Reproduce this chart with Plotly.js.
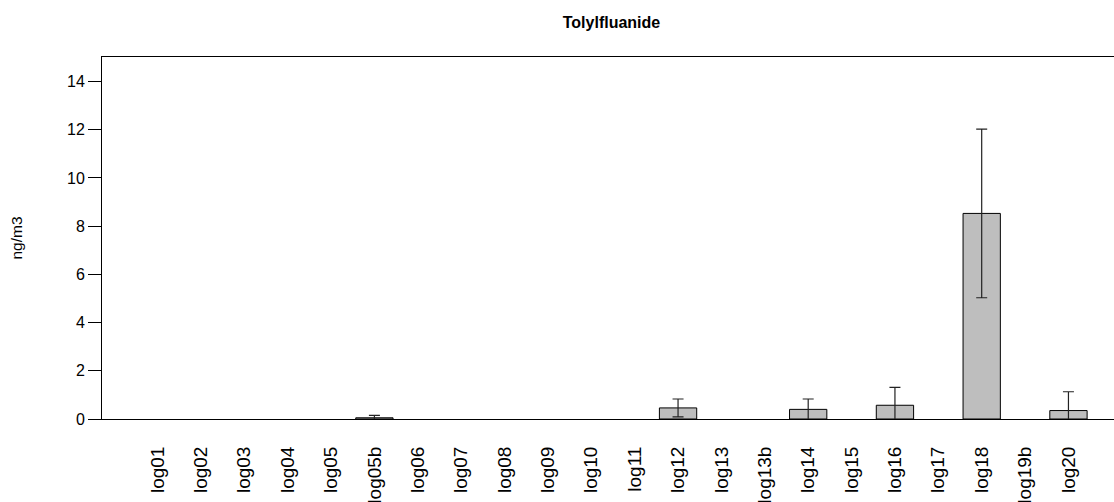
<!DOCTYPE html>
<html>
<head>
<meta charset="utf-8">
<script src="https://cdn.plot.ly/plotly-3.0.1.min.js"></script>
<style>html,body{margin:0;padding:0;overflow:hidden;background:#fff;}</style>
</head>
<body>
<div id="chart" style="width:1114px;height:502px;"></div>
<script>
const categories = ["log01","log02","log03","log04","log05","log05b","log06","log07","log08","log09","log10","log11","log12","log13","log13b","log14","log15","log16","log17","log18","log19b","log20"];
const values     = [0,0,0,0,0,0.05,0,0,0,0,0,0,0.46,0,0,0.40,0,0.57,0,8.53,0,0.35];
const errors     = [0,0,0,0,0,0.10,0,0,0,0,0,0,0.37,0,0,0.43,0,0.74,0,3.50,0,0.78];
const yTicks     = [0,2,4,6,8,10,12,14];

const idx = categories.map((c,i)=>i);
const hasVal = values.map(v=>v>0);

const font = "Liberation Sans, Arial, sans-serif";

const trace = {
  type: "bar",
  x: idx,
  y: values.map((v,i)=>hasVal[i]?v:null),
  width: 0.86,
  marker: {color: "#BEBEBE", line: {color: "#000000", width: 1}},
  error_y: {
    type: "data",
    array: errors.map((e,i)=>hasVal[i]?e:null),
    visible: true,
    color: "#222222",
    thickness: 1.2,
    width: 5.5
  },
  cliponaxis: true,
  hoverinfo: "none"
};

const layout = {
  width: 1114,
  height: 502,
  margin: {l: 102, r: 0, t: 57, b: 83, pad: 0},
  paper_bgcolor: "#ffffff",
  plot_bgcolor: "#ffffff",
  showlegend: false,
  title: {
    text: "<b>Tolylfluanide</b>",
    font: {family: font, size: 16, color: "#000"},
    x: 611.5/1114, xanchor: "center",
    y: 1 - 22.5/502, yanchor: "middle"
  },
  xaxis: {
    range: [-1.28, 22.05],
    tickmode: "array",
    tickvals: idx,
    ticktext: categories,
    tickangle: -90,
    ticks: "",
    showgrid: false,
    zeroline: false,
    showline: true,
    linecolor: "#000",
    linewidth: 1,
    mirror: true,
    ticklabelstandoff: 19,
    tickfont: {family: font, size: 19, color: "#000"},
    fixedrange: true
  },
  yaxis: {
    range: [0, 15.02],
    tickmode: "array",
    tickvals: yTicks,
    ticks: "outside",
    ticklen: 13,
    tickcolor: "#000",
    tickwidth: 1,
    showgrid: false,
    zeroline: false,
    showline: true,
    linecolor: "#000",
    linewidth: 1,
    mirror: false,
    tickfont: {family: font, size: 16, color: "#000"},
    title: {text: "ng/m3", font: {family: font, size: 15.5, color: "#000"}, standoff: 40},
    fixedrange: true
  }
};

Plotly.newPlot("chart", [trace], layout, {displayModeBar: false, staticPlot: true});
</script>
</body>
</html>
